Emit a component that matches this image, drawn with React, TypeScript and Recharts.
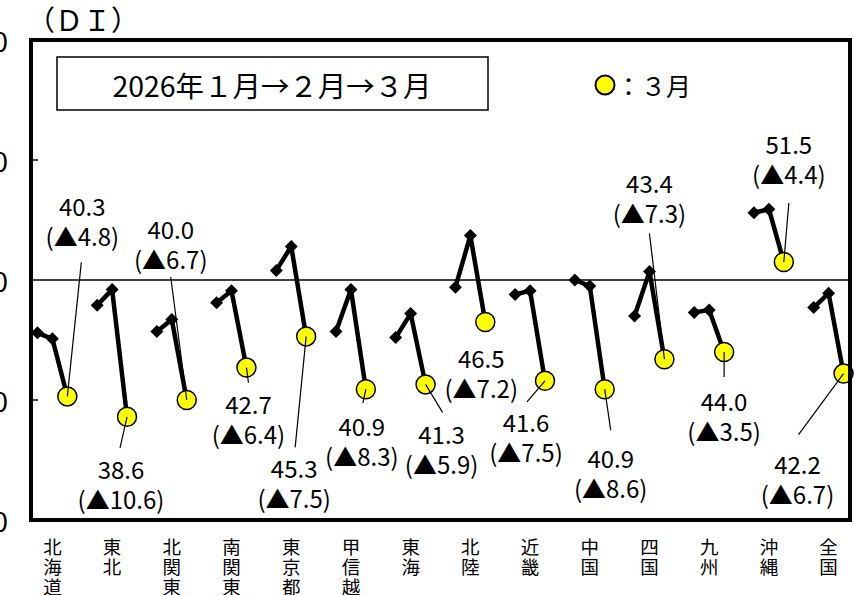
import { LineChart, Line, XAxis, YAxis, ReferenceLine } from 'recharts'

const regions = ['北海道', '東北', '北関東', '南関東', '東京都', '甲信越', '東海', '北陸', '近畿', '中国', '四国', '九州', '沖縄', '全国']
const jan = [45.6, 47.9, 45.7, 48.1, 50.8, 45.7, 45.2, 49.4, 48.8, 50.0, 47.0, 47.3, 55.6, 47.7]
const feb = [45.1, 49.2, 46.7, 49.1, 52.8, 49.2, 47.2, 53.7, 49.1, 49.5, 50.7, 47.5, 55.9, 48.9]
const mar = [40.3, 38.6, 40.0, 42.7, 45.3, 40.9, 41.3, 46.5, 41.6, 40.9, 43.4, 44.0, 51.5, 42.2]
// fall from Feb to Mar (shown as ▲)
const drop = [4.8, 10.6, 6.7, 6.4, 7.5, 8.3, 5.9, 7.2, 7.5, 8.6, 7.3, 3.5, 4.4, 6.7]
const yTicks = [30, 40, 50, 60, 70]

// where each March label sits, relative to its point: [dx, dy, leader dx, leader dy]
const labelOffsets: [number, number, number | null, number | null][] = [
  [15, -191, 14, -134],
  [-6, 52, -7, 31],
  [-16, -172, -16, -123],
  [2, 36, 2, 15],
  [-12, 131, -11, 111],
  [-4, 36, -3, 14],
  [16, 49, 17, 28],
  [-4, 35, null, null],
  [-19, 41, -18, 21],
  [6, 68, 6, 41],
  [-15, -177, -15, -126],
  [0, 48, 0, 25],
  [5, -119, 5, -59],
  [-46, 90, -45, 61],
]

const FONT = '"Noto Sans CJK JP", "Noto Sans", sans-serif'
const W = 856
const H = 595
const M = { top: 40, right: 5, bottom: 0, left: 0 }
const Y_AXIS_W = 30
const X_AXIS_H = 75
const plot = {
  x: M.left + Y_AXIS_W,
  y: M.top,
  w: W - M.left - M.right - Y_AXIS_W,
  h: H - M.top - M.bottom - X_AXIS_H,
}

type Row = { key: string; di: number | null; month: number; region: number }

const rows: Row[] = []
regions.forEach((name, i) => {
  rows.push({ key: `${i}-1`, di: jan[i], month: 1, region: i })
  rows.push({ key: name, di: feb[i], month: 2, region: i })
  rows.push({ key: `${i}-3`, di: mar[i], month: 3, region: i })
  if (i < regions.length - 1) rows.push({ key: `${i}-gap`, di: null, month: 0, region: i })
})

function MonthDot(props: any) {
  const { cx, cy, payload } = props
  if (!payload || payload.di == null || cx == null || cy == null) return <g />
  if (payload.month !== 3) {
    const d = 6.5
    return (
      <polygon
        points={`${cx},${cy - d} ${cx + d},${cy} ${cx},${cy + d} ${cx - d},${cy}`}
        fill="#000"
      />
    )
  }
  const i = payload.region
  const [dx, dy, ex, ey] = labelOffsets[i]
  return (
    <g>
      <circle cx={cx} cy={cy} r={9.5} fill="#ffff00" stroke="#000" strokeWidth={1.5} />
      {ex != null && ey != null && (
        <line x1={cx} y1={cy} x2={cx + ex} y2={cy + ey} stroke="#000" strokeWidth={1.2} />
      )}
      <text x={cx + dx} y={cy + dy} textAnchor="middle" dominantBaseline="central" fontSize={24} fontFamily={FONT} fill="#000">
        {mar[i].toFixed(1)}
      </text>
      <text x={cx + dx} y={cy + dy + 30} textAnchor="middle" dominantBaseline="central" fontSize={24} fontFamily={FONT} fill="#000">
        {`(▲${drop[i].toFixed(1)})`}
      </text>
    </g>
  )
}

function YTick(props: any) {
  const { y, payload } = props
  const v = payload.value
  return (
    <g>
      {v === 40 || v === 60 ? (
        <line x1={plot.x} x2={plot.x + 8} y1={y} y2={y} stroke="#000" strokeWidth={1.5} />
      ) : null}
      <text x={8} y={y} textAnchor="end" dominantBaseline="central" fontSize={28} fontFamily={FONT} fill="#000">
        {v}
      </text>
    </g>
  )
}

function XTick(props: any) {
  const { x, payload } = props
  if (!regions.includes(payload.value)) return <g />
  const chars = Array.from(payload.value as string)
  return (
    <g>
      {chars.map((c, k) => (
        <text key={k} x={x} y={546 + k * 20} textAnchor="middle" dominantBaseline="central" fontSize={18.5} fontFamily={FONT} fill="#000">
          {c}
        </text>
      ))}
    </g>
  )
}

export default function App() {
  return (
    <div style={{ position: 'absolute', left: 0, top: 0, width: W, height: H, background: '#fff' }}>
      <LineChart width={W} height={H} data={rows} margin={M}>
        <XAxis
          dataKey="key"
          scale="band"
          interval={0}
          height={X_AXIS_H}
          axisLine={false}
          tickLine={false}
          tick={<XTick />}
        />
        <YAxis
          domain={[30, 70]}
          ticks={yTicks}
          width={Y_AXIS_W}
          axisLine={false}
          tickLine={false}
          tick={<YTick />}
        />
        <ReferenceLine y={50} stroke="#000" strokeWidth={1.5} />
        <Line
          dataKey="di"
          stroke="#000"
          strokeWidth={4.5}
          connectNulls={false}
          dot={(p: any) => <MonthDot key={p.index} {...p} />}
          activeDot={false}
          isAnimationActive={false}
        />
      </LineChart>
      <svg width={W} height={H} style={{ position: 'absolute', left: 0, top: 0, pointerEvents: 'none' }}>
        <rect x={plot.x + 1} y={plot.y} width={plot.w - 2} height={plot.h} fill="none" stroke="#000" strokeWidth={4} />
        <text x={27} y={19} dominantBaseline="central" fontSize={28} fontFamily={FONT} fill="#000">
          （ＤＩ）
        </text>
        <rect x={57} y={57} width={431} height={53} fill="#fff" stroke="#000" strokeWidth={1.5} />
        <text x={272} y={85} textAnchor="middle" dominantBaseline="central" fontSize={28} fontFamily={FONT} fill="#000" textLength={319} lengthAdjust="spacingAndGlyphs">
          2026年１月→２月→３月
        </text>
        <circle cx={605} cy={85} r={9.5} fill="#ffff00" stroke="#000" strokeWidth={2} />
        <text x={616} y={85} dominantBaseline="central" fontSize={25} fontFamily={FONT} fill="#000">
          ：３月
        </text>
      </svg>
    </div>
  )
}
